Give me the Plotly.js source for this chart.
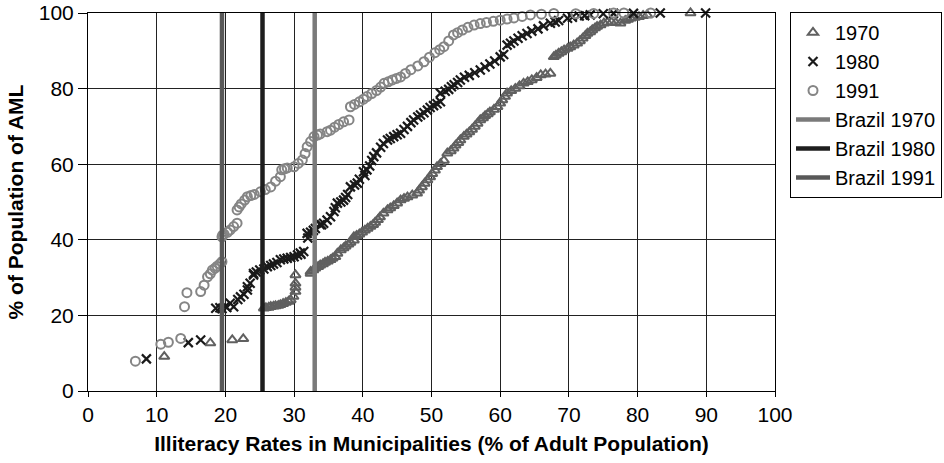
<!DOCTYPE html>
<html>
<head>
<meta charset="utf-8">
<script src="https://cdn.plot.ly/plotly-3.0.1.min.js"></script>
<style>html,body{margin:0;padding:0;background:#fff;}#chart{width:944px;height:463px;}</style>
</head>
<body>
<div id="chart"></div>
<script>
// 1970 municipalities (triangles)
const x1970 = [11.1,17.8,21.0,22.6,25.6,25.9,26.3,26.6,27.0,27.3,
  27.7,28.0,28.4,28.8,29.2,29.5,29.9,30.2,30.2,30.2,
  30.2,32.4,32.4,32.8,33.1,33.5,33.8,34.2,34.5,34.9,
  35.3,35.6,36.0,36.3,36.8,37.2,37.5,37.9,38.2,38.7,
  38.7,39.1,39.5,39.9,40.3,40.7,41.1,41.5,41.8,42.2,
  42.5,43.0,43.6,44.0,44.5,45.0,45.5,46.0,46.5,47.2,
  47.9,48.2,48.6,49.0,49.4,49.8,50.1,50.5,50.8,51.3,
  51.8,52.3,52.8,53.2,53.5,53.9,54.2,54.7,55.1,55.5,
  55.9,56.3,56.7,57.1,57.5,57.8,58.2,58.5,59.1,59.6,
  60.0,60.3,60.7,61.0,61.6,62.2,62.8,63.4,64.0,64.6,
  65.3,65.9,66.6,67.3,67.8,68.1,68.5,68.9,69.3,69.8,
  70.2,70.7,71.2,71.6,72.0,72.4,72.7,73.1,73.4,73.8,
  74.1,74.6,75.1,75.6,76.2,76.8,77.5,78.2,78.6,79.0,
  79.6,80.2,80.8,81.4,87.7];
const y1970 = [9.1,12.7,13.5,13.8,21.9,22.0,22.1,22.3,22.4,22.5,
  22.6,22.8,23.1,23.4,23.7,24.1,25.0,26.3,27.4,28.5,
  30.7,31.1,31.6,32.0,32.5,32.9,33.3,33.6,34.0,34.3,
  34.7,35.1,35.5,36.4,37.3,37.8,38.3,38.8,39.3,39.9,
  40.8,41.1,41.5,42.0,42.5,43.0,43.5,44.0,44.6,45.3,
  46.0,47.0,47.9,48.4,49.0,49.7,50.5,50.9,51.3,51.8,
  52.3,53.1,54.0,54.9,55.8,56.6,57.5,58.4,59.3,60.1,
  61.0,62.9,63.5,64.2,65.0,65.7,66.4,67.3,67.9,68.5,
  69.2,70.0,70.8,71.7,72.2,72.8,73.3,73.8,74.5,75.2,
  76.1,77.0,77.9,78.8,79.4,80.0,80.7,81.4,81.8,82.3,
  82.9,83.6,83.8,84.0,88.4,88.8,89.3,89.7,90.2,90.6,
  91.0,91.5,92.0,92.6,93.3,94.0,94.6,95.0,95.5,96.0,
  96.4,96.8,97.3,97.5,97.6,97.4,97.3,98.0,98.3,98.6,
  98.8,99.0,99.3,99.5,100];
// 1980 municipalities (crosses)
const x1980 = [8.5,14.6,16.4,18.6,19.2,19.5,20.0,20.2,21.2,20.7,
  21.8,22.2,22.7,23.2,23.2,23.6,24.1,24.1,24.5,25.0,
  25.6,26.1,26.6,27.0,27.5,28.0,28.5,29.0,29.5,30.0,
  30.5,30.9,31.0,31.4,31.9,32.0,32.4,32.8,33.1,33.8,
  34.0,34.3,34.8,35.3,35.8,36.0,36.3,36.8,37.2,37.5,
  37.8,38.2,38.8,39.2,39.5,40.1,40.3,40.6,41.0,41.3,
  41.6,42.0,42.6,43.0,43.6,44.0,44.5,45.0,45.5,46.0,
  46.5,47.0,47.4,48.0,48.4,48.9,49.4,49.8,50.3,50.8,
  51.3,51.3,52.0,52.5,52.9,53.3,53.8,54.2,54.8,55.5,
  56.3,57.1,57.8,58.5,59.2,60.0,60.5,61.0,61.5,62.0,
  62.6,63.2,63.9,64.6,65.5,66.3,67.3,68.0,68.5,69.8,
  70.5,71.5,72.3,73.1,75.0,76.5,79.4,83.3,89.9];
const y1980 = [8.5,12.8,13.5,21.9,22.0,21.8,22.4,22.1,22.3,23.2,
  24.2,24.9,25.6,26.7,27.6,28.5,30.7,31.1,31.5,32.0,
  32.3,32.9,33.2,33.6,34.0,34.7,34.9,35.1,35.3,35.5,
  36.0,36.5,36.2,36.9,41.7,40.5,42.0,42.5,43.0,44.0,
  44.0,44.4,45.2,46.1,47.5,48.5,49.7,50.0,50.5,51.2,
  52.0,54.0,54.5,55.0,56.0,58.0,57.0,58.5,59.5,61.0,
  62.0,63.0,64.5,65.5,66.4,66.8,67.3,67.8,68.2,69.2,
  70.0,71.0,71.7,72.5,73.0,73.6,74.3,75.0,75.5,76.0,
  76.5,78.8,79.3,79.8,80.5,81.0,81.6,82.3,83.0,83.5,
  84.2,84.9,85.7,86.5,87.3,88.4,89.0,91.5,92.0,92.6,
  93.3,94.0,94.6,95.2,95.8,96.6,97.3,97.6,98.0,98.6,
  98.9,99.2,99.3,99.5,99.8,99.9,99.9,100,100];
// 1991 municipalities (circles)
const x1991 = [6.9,10.6,11.7,13.5,14.05,14.4,16.4,16.9,17.4,17.8,
  18.1,18.5,18.8,19.2,19.5,19.5,19.6,19.8,20.3,20.7,
  21.2,21.7,21.7,22.0,22.3,22.8,23.2,23.7,24.2,25.1,
  25.8,26.6,27.3,28.0,28.2,28.6,29.0,30.0,30.6,31.2,
  31.6,31.9,32.4,32.9,33.4,33.8,34.8,35.3,35.9,36.5,
  37.2,38.0,38.2,38.8,39.5,40.1,40.6,41.3,42.0,42.6,
  43.1,43.7,44.3,44.9,45.5,46.2,47.0,48.0,48.9,49.7,
  50.5,51.2,51.8,52.5,53.2,53.8,54.5,55.3,56.2,57.1,
  58.0,59.0,60.0,61.0,62.0,63.2,64.4,66.0,67.8,71.0,
  73.6,76.5,78.0,81.9];
const y1991 = [7.9,12.4,12.9,13.9,22.3,26.0,26.3,28.0,30.2,31.0,
  32.0,32.5,33.0,33.6,34.2,40.8,41.2,41.5,42.0,42.6,
  43.5,44.4,47.9,48.7,49.5,50.5,51.4,51.7,52.0,52.7,
  53.3,54.0,55.5,56.7,58.5,58.8,59.0,59.3,60.2,61.1,
  62.8,64.6,66.0,67.3,67.7,68.0,68.6,69.0,69.8,70.5,
  71.2,71.7,75.2,75.8,76.5,77.2,77.9,78.7,79.5,80.4,
  81.4,81.8,82.3,82.7,83.1,84.0,85.0,86.0,87.1,88.3,
  89.5,90.3,91.1,92.6,94.2,94.8,95.5,96.2,96.8,97.2,
  97.5,97.8,98.1,98.4,98.7,99.1,99.5,99.7,99.9,99.8,
  99.9,100,100,100];
// Brazil national rates
const brazilNames = ["Brazil 1970","Brazil 1980","Brazil 1991"];
const brazilRates = [33.0,25.4,19.5];
const brazilY = [0,100];

const font = "'Liberation Sans', Arial, Helvetica, sans-serif";
const data = [
  {name:"1970", x:x1970, y:y1970, mode:"markers", type:"scatter", cliponaxis:false,
   marker:{symbol:"triangle-up-open", size:9, color:"#606060", line:{width:2, color:"#606060"}}},
  {name:"1980", x:x1980, y:y1980, mode:"markers", type:"scatter", cliponaxis:false,
   marker:{symbol:"x-thin-open", size:9, color:"#1a1a1a", line:{width:2.2, color:"#1a1a1a"}}},
  {name:"1991", x:x1991, y:y1991, mode:"markers", type:"scatter", cliponaxis:false,
   marker:{symbol:"circle-open", size:9, color:"#858585", line:{width:2, color:"#858585"}}}
];
const lineColors = ["#7a7a7a","#1e1e1e","#585858"];
brazilNames.forEach((n,i)=>{
  data.push({name:n, x:[brazilRates[i],brazilRates[i]], y:brazilY, mode:"lines", type:"scatter",
    line:{color:lineColors[i], width:4.5}});
});

const layout = {
  width:944, height:463,
  margin:{l:88, r:169, t:13, b:72, autoexpand:false},
  paper_bgcolor:"#fff", plot_bgcolor:"#fff",
  font:{family:font, size:21, color:"#000"},
  showlegend:true,
  legend:{xref:"container", yref:"container", x:790/944, y:1-12/463, xanchor:"left", yanchor:"top",
          bordercolor:"#000", borderwidth:1,
          font:{family:font, size:20, color:"#000"}, itemwidth:34, bgcolor:"#fff"},
  xaxis:{range:[0,100], dtick:10, tick0:0, showgrid:true, gridcolor:"#222", gridwidth:1,
         zeroline:false, showline:true, linecolor:"#000", linewidth:1, mirror:true,
         ticks:"outside", ticklen:5, tickcolor:"#000",
         tickfont:{family:font, size:21, color:"#000"},
         title:{text:"<b>Illiteracy Rates in Municipalities (% of Adult Population)</b>", font:{family:font, size:21, color:"#000"}, standoff:11}},
  yaxis:{range:[0,100], dtick:20, tick0:0, showgrid:true, gridcolor:"#222", gridwidth:1,
         zeroline:false, showline:true, linecolor:"#000", linewidth:1, mirror:true,
         ticks:"outside", ticklen:9, tickcolor:"#000",
         tickfont:{family:font, size:21, color:"#000"},
         title:{text:"<b>% of Population of AML</b>", font:{family:font, size:21, color:"#000"}, standoff:9}}
};
Plotly.newPlot("chart", data, layout, {displayModeBar:false, staticPlot:true});
</script>
</body>
</html>
